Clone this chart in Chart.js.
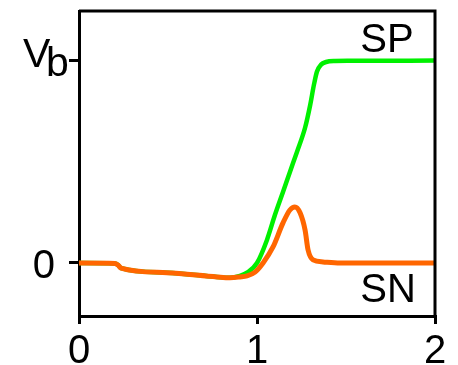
<!DOCTYPE html>
<html>
<head>
<meta charset="utf-8">
<style>
  html, body { margin: 0; padding: 0; background: #fff; }
  #bias_chart { display: block; }
</style>
<script src="https://cdn.jsdelivr.net/npm/chart.js@4/dist/chart.umd.min.js"></script>
</head>
<body>
<canvas id="bias_chart" width="458" height="365"></canvas>
<script>
// Node voltages vs. time
var spX = [0, 0.202, 0.219, 0.236, 0.494, 0.775, 0.848, 0.904, 0.949, 1.0, 1.056, 1.101, 1.146, 1.185, 1.225, 1.27, 1.298, 1.32, 1.337, 1.36, 1.388, 1.438, 1.522, 2];
var spY = [0, -0.002, -0.01, -0.025, -0.048, -0.069, -0.073, -0.064, -0.045, 0, 0.114, 0.238, 0.351, 0.45, 0.55, 0.668, 0.777, 0.881, 0.946, 0.98, 0.993, 0.998, 0.999, 1.0];

var snX = [0, 0.202, 0.219, 0.236, 0.494, 0.775, 0.848, 0.904, 0.944, 0.989, 1.034, 1.09, 1.146, 1.185, 1.213, 1.242, 1.27, 1.287, 1.315, 1.371, 1.466, 2];
var snY = [0, -0.002, -0.01, -0.025, -0.048, -0.069, -0.073, -0.069, -0.064, -0.045, 0, 0.079, 0.198, 0.262, 0.277, 0.248, 0.163, 0.064, 0.015, 0.005, 0, 0];

var xTicks = [0, 1, 2];
var yTicks = [0, 1];
var yTickLabels = ['0', 'Vb'];

var FONT = "'Liberation Sans', Arial, sans-serif";

var toPoints = function(xs, ys) {
  return xs.map(function(x, i) {
    return { x: x, y: ys[i] };
  });
};

// Closes the box and writes the V_b tick label and the curve names
var frame_plugin = {
  id: 'frame',
  afterDraw: function(chart) {
    var ctx = chart.ctx;
    var area = chart.chartArea;
    var xs = chart.scales.x;
    var ys = chart.scales.y;

    ctx.save();
    ctx.strokeStyle = '#000';
    ctx.lineWidth = 3;
    ctx.beginPath();
    ctx.moveTo(area.left, area.top);
    ctx.lineTo(area.right, area.top);
    ctx.lineTo(area.right, area.bottom);
    ctx.stroke();

    ctx.fillStyle = '#000';
    ctx.textAlign = 'left';
    ctx.textBaseline = 'alphabetic';
    ctx.font = '41px ' + FONT;

    // V with subscript b
    var vb = ys.getPixelForValue(yTicks[1]);
    ctx.fillText(yTickLabels[1].charAt(0), 23, vb + 6);
    ctx.fillText(yTickLabels[1].charAt(1), 46, vb + 15);

    ctx.font = '40px ' + FONT;
    ctx.fillText('SP', xs.getPixelForValue(1.58), ys.getPixelForValue(1.04));
    ctx.fillText('SN', xs.getPixelForValue(1.58), ys.getPixelForValue(-0.193));
    ctx.restore();
  }
};

var axis_style = {
  grid: {
    display: true,
    drawOnChartArea: false,
    drawTicks: true,
    color: '#000',
    lineWidth: 3
  },
  border: {
    display: true,
    color: '#000',
    width: 3
  }
};

// Keep the plot box where it is, whatever the tick labels need
var noLabelPadding = function(scale) {
  scale.paddingTop = 0;
  scale.paddingBottom = 0;
  scale.paddingLeft = 0;
  scale.paddingRight = 0;
};

var bias_chart = new Chart(document.getElementById('bias_chart').getContext('2d'), {
  type: 'line',
  data: {
    datasets: [
      {
        label: 'SN',
        data: toPoints(snX, snY),
        borderColor: '#ff6600',
        borderWidth: 5,
        pointRadius: 0,
        cubicInterpolationMode: 'monotone',
        order: 0
      },
      {
        label: 'SP',
        data: toPoints(spX, spY),
        borderColor: '#00f000',
        borderWidth: 4.5,
        pointRadius: 0,
        cubicInterpolationMode: 'monotone',
        order: 1
      }
    ]
  },
  options: {
    responsive: false,
    animation: false,
    layout: {
      autoPadding: false,
      padding: { left: 0, top: 11, right: 23, bottom: 0 }
    },
    plugins: {
      legend: { display: false },
      tooltip: { enabled: false }
    },
    scales: {
      x: {
        type: 'linear',
        min: 0,
        max: 2,
        afterBuildTicks: function(scale) {
          scale.ticks = xTicks.map(function(v) { return { value: v }; });
        },
        afterFit: function(scale) {
          scale.height = 49;
          noLabelPadding(scale);
        },
        ticks: {
          color: '#000',
          padding: 4,
          maxRotation: 0,
          font: { family: FONT, size: 40 },
          callback: function(value) { return String(value); }
        },
        grid: Object.assign({}, axis_style.grid, { tickLength: 8 }),
        border: axis_style.border
      },
      y: {
        type: 'linear',
        min: -0.262,
        max: 1.245,
        afterBuildTicks: function(scale) {
          scale.ticks = yTicks.map(function(v) { return { value: v }; });
        },
        afterFit: function(scale) {
          scale.width = 79;
          noLabelPadding(scale);
        },
        ticks: {
          color: '#000',
          padding: 14,
          labelOffset: 4,
          font: { family: FONT, size: 40 },
          callback: function(value) {
            // the V_b label is drawn by the frame plugin
            return value === yTicks[0] ? yTickLabels[0] : '';
          }
        },
        grid: Object.assign({}, axis_style.grid, { tickLength: 10 }),
        border: axis_style.border
      }
    }
  },
  plugins: [frame_plugin]
});
</script>
</body>
</html>
